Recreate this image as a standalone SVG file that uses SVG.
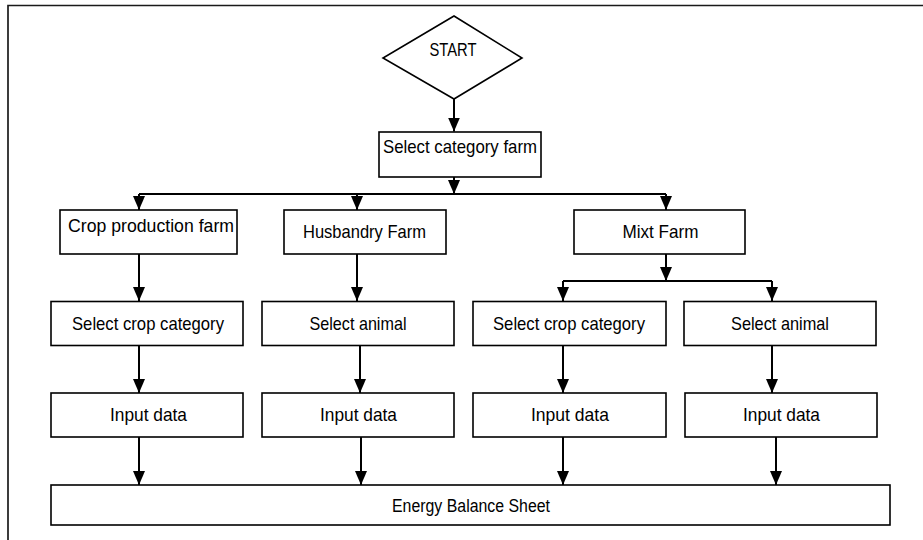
<svg xmlns="http://www.w3.org/2000/svg" width="923" height="540" viewBox="0 0 923 540">
<style>
.box{fill:#fff;stroke:#000;stroke-width:1.6}
.lbl{font-family:"Liberation Sans",Arial,sans-serif;font-size:19px;fill:#000;text-anchor:start}
.con{fill:none;stroke:#000;stroke-width:2}
.frame{fill:none;stroke:#1a1a1a;stroke-width:1.7}
</style>
<defs>
<marker id="ah" viewBox="0 0 14 12" markerWidth="14" markerHeight="12" refX="14" refY="6" orient="auto" markerUnits="userSpaceOnUse">
<path d="M0,0 L14,6 L0,12 z" fill="#000"/>
</marker>
</defs>
<rect width="923" height="540" fill="#fff"/>
<path class="frame" d="M8,540 L8,5.5 L923,5.5"/>

<g id="start">
<polygon class="box" points="454,16 522,58 454,99 383,58"/>
<text class="lbl" x="429.5" y="56" textLength="47" lengthAdjust="spacingAndGlyphs" style="font-size:18px">START</text>
</g>
<g id="select-category-farm">
<rect class="box" x="379" y="132" width="162" height="45"/>
<text class="lbl" x="383" y="152.5" textLength="154" lengthAdjust="spacingAndGlyphs">Select category farm</text>
</g>
<g id="crop-production-farm">
<rect class="box" x="60" y="210" width="177" height="44"/>
<text class="lbl" x="68" y="231.5" textLength="166" lengthAdjust="spacingAndGlyphs">Crop production farm</text>
</g>
<g id="husbandry-farm">
<rect class="box" x="284" y="210" width="162" height="44"/>
<text class="lbl" x="303" y="238" textLength="123" lengthAdjust="spacingAndGlyphs">Husbandry Farm</text>
</g>
<g id="mixt-farm">
<rect class="box" x="574" y="210" width="171" height="44"/>
<text class="lbl" x="622.5" y="238" textLength="76" lengthAdjust="spacingAndGlyphs">Mixt Farm</text>
</g>
<g id="select-crop-category-1">
<rect class="box" x="51" y="301.5" width="192" height="44"/>
<text class="lbl" x="72" y="329.5" textLength="152" lengthAdjust="spacingAndGlyphs">Select crop category</text>
</g>
<g id="select-animal-1">
<rect class="box" x="262" y="301.5" width="192" height="44"/>
<text class="lbl" x="309.5" y="329.5" textLength="97" lengthAdjust="spacingAndGlyphs">Select animal</text>
</g>
<g id="select-crop-category-2">
<rect class="box" x="473" y="301.5" width="193" height="44"/>
<text class="lbl" x="493" y="329.5" textLength="152" lengthAdjust="spacingAndGlyphs">Select crop category</text>
</g>
<g id="select-animal-2">
<rect class="box" x="684" y="301.5" width="192" height="44"/>
<text class="lbl" x="731" y="329.5" textLength="98" lengthAdjust="spacingAndGlyphs">Select animal</text>
</g>
<g id="input-data-1">
<rect class="box" x="51" y="393" width="192" height="44"/>
<text class="lbl" x="110" y="420.5" textLength="77" lengthAdjust="spacingAndGlyphs">Input data</text>
</g>
<g id="input-data-2">
<rect class="box" x="262" y="393" width="192" height="44"/>
<text class="lbl" x="320" y="420.5" textLength="77" lengthAdjust="spacingAndGlyphs">Input data</text>
</g>
<g id="input-data-3">
<rect class="box" x="473" y="393" width="193" height="44"/>
<text class="lbl" x="531" y="420.5" textLength="78" lengthAdjust="spacingAndGlyphs">Input data</text>
</g>
<g id="input-data-4">
<rect class="box" x="685" y="393" width="192" height="44"/>
<text class="lbl" x="743" y="420.5" textLength="77" lengthAdjust="spacingAndGlyphs">Input data</text>
</g>
<g id="energy-balance-sheet">
<rect class="box" x="51" y="485" width="839" height="40"/>
<text class="lbl" x="392" y="511.5" textLength="158" lengthAdjust="spacingAndGlyphs" style="font-size:17.5px">Energy Balance Sheet</text>
</g>

<g id="connectors">
<path class="con" d="M454,99 L454,131.5" marker-end="url(#ah)"/>
<path class="con" d="M454,177 L454,194" marker-end="url(#ah)"/>
<path class="con" d="M139,194 L666,194"/>
<path class="con" d="M139,194 L139,210" marker-end="url(#ah)"/>
<path class="con" d="M357,194 L357,210" marker-end="url(#ah)"/>
<path class="con" d="M666,194 L666,210" marker-end="url(#ah)"/>
<path class="con" d="M139,254 L139,301" marker-end="url(#ah)"/>
<path class="con" d="M357,254 L357,301" marker-end="url(#ah)"/>
<path class="con" d="M666,254 L666,281" marker-end="url(#ah)"/>
<path class="con" d="M563,281 L772,281"/>
<path class="con" d="M563,281 L563,301" marker-end="url(#ah)"/>
<path class="con" d="M772,281 L772,301" marker-end="url(#ah)"/>
<path class="con" d="M139,345.5 L139,393" marker-end="url(#ah)"/>
<path class="con" d="M360,345.5 L360,393" marker-end="url(#ah)"/>
<path class="con" d="M563,345.5 L563,393" marker-end="url(#ah)"/>
<path class="con" d="M772,345.5 L772,393" marker-end="url(#ah)"/>
<path class="con" d="M139,437 L139,485" marker-end="url(#ah)"/>
<path class="con" d="M361,437 L361,485" marker-end="url(#ah)"/>
<path class="con" d="M563,437 L563,485" marker-end="url(#ah)"/>
<path class="con" d="M776,437 L776,485" marker-end="url(#ah)"/>
</g>
</svg>
